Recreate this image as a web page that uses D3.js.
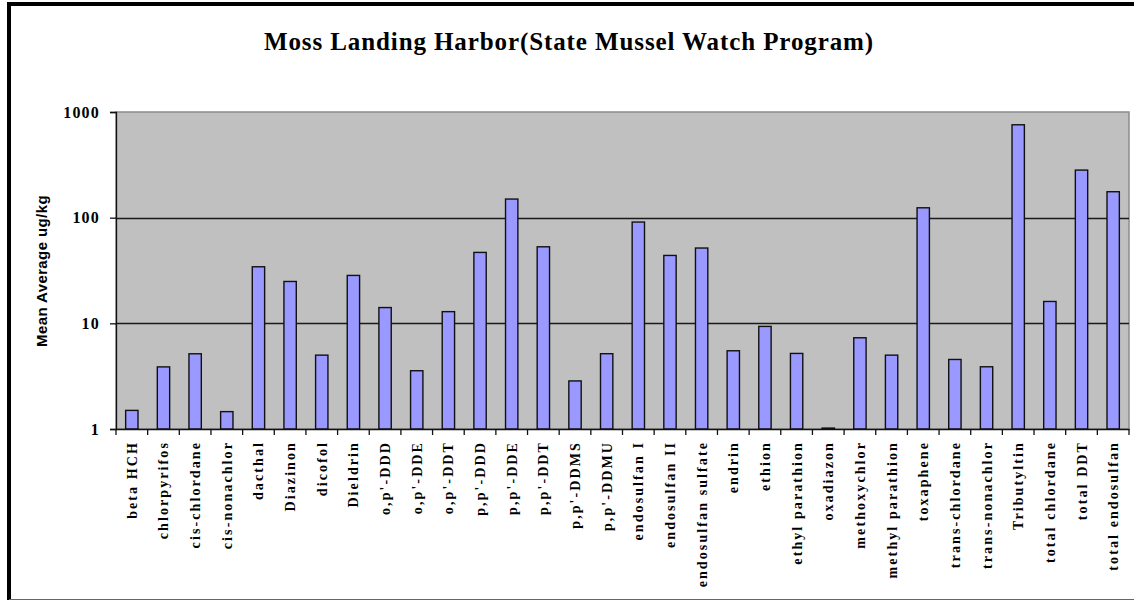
<!DOCTYPE html>
<html>
<head>
<meta charset="utf-8">
<script src="https://d3js.org/d3.v7.min.js"></script>
<style>
  body { margin: 0; background: #fff; }
  svg { display: block; }
</style>
</head>
<body>
<div id="chart"></div>
<script>
var chartTitle = "Moss Landing Harbor(State Mussel Watch Program)";
var yTitle = "Mean Average ug/kg";

var compounds = ["beta HCH", "chlorpyrifos", "cis-chlordane", "cis-nonachlor", "dacthal",
  "Diazinon", "dicofol", "Dieldrin", "o,p'-DDD", "o,p'-DDE", "o,p'-DDT", "p,p'-DDD",
  "p,p'-DDE", "p,p'-DDT", "p,p'-DDMS", "p,p'-DDMU", "endosulfan I", "endosulfan II",
  "endosulfan sulfate", "endrin", "ethion", "ethyl parathion", "oxadiazon", "methoxychlor",
  "methyl parathion", "toxaphene", "trans-chlordane", "trans-nonachlor", "Tributyltin",
  "total chlordane", "total DDT", "total endosulfan"];

var meanValues = [1.5, 3.87, 5.15, 1.46, 34.3,
  24.9, 5.0, 28.4, 14.1, 3.56, 12.9, 46.9,
  150, 53, 2.85, 5.16, 90.9, 43.9,
  51.6, 5.5, 9.35, 5.19, 1.02, 7.3,
  5.0, 124, 4.55, 3.88, 757,
  16.1, 282, 176];

var yTicks = [1, 10, 100, 1000];

var W = 1134, H = 600;
var plot = {left: 116, right: 1129, top: 112, bottom: 429};
var serif = '"Liberation Serif", "Times New Roman", serif';

var svg = d3.select('#chart').append('svg')
  .attr('width', W)
  .attr('height', H);

svg.append('rect')
  .attr('width', W).attr('height', H)
  .attr('fill', '#fff');

// outer chart frame (right and bottom run off the picture)
svg.append('rect')
  .attr('x', 9).attr('y', 4)
  .attr('width', 1150).attr('height', 620)
  .attr('fill', 'none')
  .attr('stroke', '#000')
  .attr('stroke-width', 4);
svg.append('line')
  .attr('x1', 9).attr('x2', W)
  .attr('y1', 599.5).attr('y2', 599.5)
  .attr('stroke', '#666').attr('stroke-width', 1);

var x = d3.scaleBand()
  .domain(compounds)
  .range([plot.left, plot.right])
  .paddingInner(0.61)
  .paddingOuter(0.305);

var xCat = d3.scaleBand()
  .domain(compounds)
  .range([plot.left, plot.right]);

var y = d3.scaleLog()
  .domain([1, 1000])
  .range([plot.bottom, plot.top]);

// plot area
svg.append('rect')
  .attr('x', plot.left).attr('y', plot.top)
  .attr('width', plot.right - plot.left)
  .attr('height', plot.bottom - plot.top)
  .attr('fill', '#c0c0c0')
  .attr('stroke', '#8c8c8c')
  .attr('stroke-width', 1.5);

// gridlines
svg.append('g').selectAll('line')
  .data(yTicks.slice(1, 3))
  .enter().append('line')
  .attr('x1', plot.left).attr('x2', plot.right)
  .attr('y1', d => Math.round(y(d)) + 0.5)
  .attr('y2', d => Math.round(y(d)) + 0.5)
  .attr('stroke', '#1a1a1a')
  .attr('stroke-width', 1.3);

// bars
svg.append('g').selectAll('rect')
  .data(compounds)
  .enter().append('rect')
  .attr('x', d => x(d))
  .attr('y', (d, i) => y(meanValues[i]))
  .attr('width', x.bandwidth())
  .attr('height', (d, i) => y(1) - y(meanValues[i]))
  .attr('fill', '#9999ff')
  .attr('stroke', '#111')
  .attr('stroke-width', 1.4);

// y axis
var yAxis = d3.axisLeft(y)
  .tickValues(yTicks)
  .tickFormat(d3.format('d'))
  .tickSize(6)
  .tickPadding(10);

var yg = svg.append('g')
  .attr('transform', 'translate(' + plot.left + ',0)')
  .call(yAxis);
yg.select('.domain').attr('stroke', '#111').attr('stroke-width', 1.3);
yg.selectAll('.tick line').attr('stroke', '#111').attr('stroke-width', 1.3);
yg.selectAll('.tick text')
  .attr('fill', '#000')
  .style('font-family', serif)
  .style('font-weight', 'bold')
  .style('font-size', '16px')
  .style('letter-spacing', '1.2px');

// x axis
var xAxis = d3.axisBottom(xCat).tickSize(0).tickFormat('');
var xg = svg.append('g')
  .attr('transform', 'translate(0,' + plot.bottom + ')')
  .call(xAxis);
xg.select('.domain').attr('stroke', '#111').attr('stroke-width', 1.3);

// category boundary ticks
xg.selectAll('.cat-tick')
  .data(compounds.concat(['__end']))
  .enter().append('line')
  .attr('class', 'cat-tick')
  .attr('x1', (d, i) => i < compounds.length ? xCat(d) : plot.right)
  .attr('x2', (d, i) => i < compounds.length ? xCat(d) : plot.right)
  .attr('y1', 0).attr('y2', 6)
  .attr('stroke', '#111')
  .attr('stroke-width', 1.3);

// category labels
svg.append('g').selectAll('text')
  .data(compounds)
  .enter().append('text')
  .attr('transform', d => 'translate(' + (xCat(d) + xCat.bandwidth() / 2 + 5) + ',' + (plot.bottom + 12) + ') rotate(-90)')
  .attr('text-anchor', 'end')
  .style('font-family', serif)
  .style('font-weight', 'bold')
  .style('font-size', '14px')
  .style('letter-spacing', '2.1px')
  .text(d => d);

// title
svg.append('text')
  .attr('x', 569)
  .attr('y', 50)
  .attr('text-anchor', 'middle')
  .style('font-family', serif)
  .style('font-weight', 'bold')
  .style('font-size', '25px')
  .style('letter-spacing', '0.9px')
  .text(chartTitle);

// y axis title
svg.append('text')
  .attr('transform', 'translate(47,271) rotate(-90)')
  .attr('text-anchor', 'middle')
  .style('font-family', '"Liberation Sans", Arial, sans-serif')
  .style('font-weight', 'bold')
  .style('font-size', '15px')
  .style('letter-spacing', '0.4px')
  .text(yTitle);
</script>
</body>
</html>
